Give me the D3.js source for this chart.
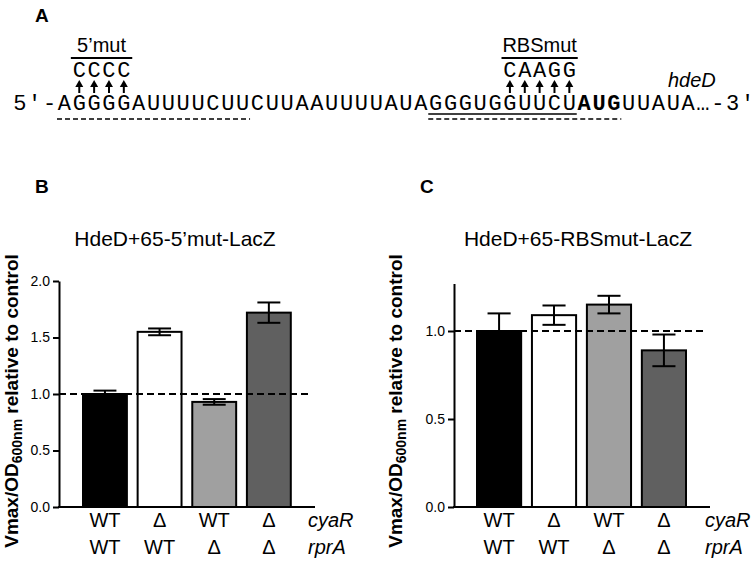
<!DOCTYPE html>
<html>
<head>
<meta charset="utf-8">
<script src="https://cdn.jsdelivr.net/npm/d3@7"></script>
<style>
  body { margin: 0; background: #fff; }
  svg { font-family: Arial, "Liberation Sans", sans-serif; }
</style>
</head>
<body>
<div id="chart"></div>
<script>
// ---- panel A: sequence ----
var seqPrefix = "5′-";
var seqBody = "AGGGGAUUUUCUUCUUAAUUUUAUAGGGUGGUUCUAUGUUAUA";
var seqSuffix = "…-3′";
var boldRange = [35, 38]; // AUG start codon
var mutations = [
  { label: "5’mut", start: 1, bases: "CCCC" },
  { label: "RBSmut", start: 30, bases: "CAAGG" }
];
// underlines under the sequence, by base index
var underlines = [
  { from: 0, to: 13, dashed: true, row: 1 },
  { from: 25, to: 35, dashed: false, row: 0 },
  { from: 25, to: 38, dashed: true, row: 1 }
];

// ---- panels B and C: bars ----
var cyaR = ["WT", "Δ", "WT", "Δ"];
var rprA = ["WT", "WT", "Δ", "Δ"];
var strains = ["wt", "cyaR", "rprA", "double"];
var barColors = ["#000000", "#ffffff", "#a0a0a0", "#606060"];
var mut5Values = [1.00, 1.55, 0.93, 1.72];
var mut5Errors = [0.03, 0.03, 0.025, 0.09];
var mut5Ticks = [0, 0.5, 1.0, 1.5, 2.0];
var rbsValues = [1.00, 1.09, 1.15, 0.89];
var rbsErrors = [0.10, 0.055, 0.05, 0.09];
var rbsTicks = [0, 0.5, 1.0];

var svg = d3.select("#chart").append("svg")
  .attr("width", 756)
  .attr("height", 563);

// panel letter
function panelLetter(txt, x, y) {
  svg.append("text")
    .attr("x", x).attr("y", y)
    .attr("font-size", 19).attr("font-weight", "bold")
    .text(txt);
}

function drawSequence() {
  panelLetter("A", 35, 22);
  var cell = d3.scaleLinear().domain([0, 1]).range([57, 71.85]);
  var seqY = 110;

  var chars = [];
  seqPrefix.split("").forEach(function(c, i) {
    chars.push({ ch: c, i: i - seqPrefix.length, bold: false });
  });
  seqBody.split("").forEach(function(c, i) {
    chars.push({ ch: c, i: i, bold: i >= boldRange[0] && i < boldRange[1] });
  });
  seqSuffix.split("").forEach(function(c, i) {
    chars.push({ ch: c, i: seqBody.length + i, bold: false });
  });

  var g = svg.append("g")
    .attr("font-family", "'Courier New', 'Nimbus Mono PS', FreeMono, 'Liberation Mono', monospace")
    .attr("font-size", 22);

  g.selectAll(".base")
    .data(chars)
    .enter()
    .append("text")
    .attr("class", "base")
    .attr("x", function(d) { return cell(d.i + 0.5); })
    .attr("y", seqY)
    .attr("text-anchor", "middle")
    .attr("font-weight", function(d) { return d.bold ? "bold" : "normal"; })
    .text(function(d) { return d.ch; });

  // underlines
  svg.selectAll(".uline")
    .data(underlines)
    .enter()
    .append("line")
    .attr("x1", function(d) { return cell(d.from); })
    .attr("x2", function(d) { return cell(d.to); })
    .attr("y1", function(d) { return seqY + 4 + d.row * 5; })
    .attr("y2", function(d) { return seqY + 4 + d.row * 5; })
    .attr("stroke", "#000")
    .attr("stroke-width", 1.6)
    .attr("stroke-dasharray", function(d) { return d.dashed ? "5,3" : null; });

  mutations.forEach(function(m) {
    var n = m.bases.length;
    // label and bar
    svg.append("text")
      .attr("x", (cell(m.start) + cell(m.start + n)) / 2)
      .attr("y", 52)
      .attr("text-anchor", "middle")
      .attr("font-size", 20)
      .text(m.label);
    svg.append("line")
      .attr("x1", cell(m.start) - 1).attr("x2", cell(m.start + n) + 1)
      .attr("y1", 58).attr("y2", 58)
      .attr("stroke", "#000").attr("stroke-width", 2);

    var idx = d3.range(n);
    g.selectAll(".mut" + m.start)
      .data(idx)
      .enter()
      .append("text")
      .attr("x", function(k) { return cell(m.start + k + 0.5); })
      .attr("y", 77)
      .attr("text-anchor", "middle")
      .text(function(k) { return m.bases[k]; });

    // arrows
    idx.forEach(function(k) {
      var cx = cell(m.start + k + 0.5);
      svg.append("line")
        .attr("x1", cx).attr("x2", cx)
        .attr("y1", 93).attr("y2", 85)
        .attr("stroke", "#000").attr("stroke-width", 2);
      svg.append("path")
        .attr("d", "M" + (cx - 4) + ",87L" + cx + ",80L" + (cx + 4) + ",87Z")
        .attr("fill", "#000");
    });
  });

  svg.append("text")
    .attr("x", 668).attr("y", 87)
    .attr("font-size", 20).attr("font-style", "italic")
    .text("hdeD");
}

function drawBars(p) {
  panelLetter(p.letter, p.letterX, 193);

  var y = d3.scaleLinear().domain([0, p.yMax]).range([507, 507 - p.unit * p.yMax]);
  var x = d3.scaleBand().domain(strains).range(p.band).paddingInner(0.16).paddingOuter(0);

  var g = svg.append("g");

  // title
  g.append("text")
    .attr("x", p.titleX).attr("y", 246)
    .attr("text-anchor", "middle")
    .attr("font-size", 21)
    .text(p.title);

  // bars
  g.selectAll(".bar")
    .data(p.values)
    .enter()
    .append("rect")
    .attr("x", function(d, i) { return x(strains[i]) + 1; })
    .attr("y", function(d) { return y(d); })
    .attr("width", x.bandwidth() - 2)
    .attr("height", function(d) { return y(0) - y(d); })
    .attr("fill", function(d, i) { return barColors[i]; })
    .attr("stroke", "#000")
    .attr("stroke-width", 2);

  // error bars
  p.values.forEach(function(v, i) {
    var cx = x(strains[i]) + x.bandwidth() / 2;
    var e = p.errors[i];
    var cap = x.bandwidth() / 4;
    g.append("line")
      .attr("x1", cx).attr("x2", cx)
      .attr("y1", y(v - e)).attr("y2", y(v + e))
      .attr("stroke", "#000").attr("stroke-width", 2);
    [v - e, v + e].forEach(function(t) {
      g.append("line")
        .attr("x1", cx - cap).attr("x2", cx + cap)
        .attr("y1", y(t)).attr("y2", y(t))
        .attr("stroke", "#000").attr("stroke-width", 2);
    });
  });

  // y axis
  var ax = g.append("g")
    .attr("transform", "translate(" + p.axisX + ",0)")
    .call(d3.axisLeft(y)
      .tickValues(p.ticks)
      .tickFormat(d3.format(".1f"))
      .tickSize(6)
      .tickSizeOuter(0)
      .tickPadding(3));
  ax.attr("font-family", "Arial, 'Liberation Sans', sans-serif").attr("font-size", 14);
  ax.selectAll("path, line").attr("stroke", "#000").attr("stroke-width", 2);
  ax.selectAll("text").attr("fill", "#000");

  // x axis line
  g.append("line")
    .attr("x1", p.axisX - 1).attr("x2", p.axisEnd)
    .attr("y1", y(0)).attr("y2", y(0))
    .attr("stroke", "#000").attr("stroke-width", 2);

  // control reference line
  g.append("line")
    .attr("x1", p.axisX).attr("x2", p.dashEnd)
    .attr("y1", y(1)).attr("y2", y(1))
    .attr("stroke", "#000").attr("stroke-width", 2)
    .attr("stroke-dasharray", "7,4");

  // genotype labels
  [cyaR, rprA].forEach(function(row, r) {
    g.selectAll(".geno" + r)
      .data(row)
      .enter()
      .append("text")
      .attr("x", function(d, i) { return x(strains[i]) + x.bandwidth() / 2; })
      .attr("y", 527 + r * 27)
      .attr("text-anchor", "middle")
      .attr("font-size", 20)
      .text(function(d) { return d; });
  });
  ["cyaR", "rprA"].forEach(function(name, r) {
    g.append("text")
      .attr("x", p.geneX).attr("y", 527 + r * 27)
      .attr("font-size", 20).attr("font-style", "italic")
      .text(name);
  });

  // y label
  var yl = g.append("text")
    .attr("transform", "translate(" + p.ylabX + ",401) rotate(-90)")
    .attr("text-anchor", "middle")
    .attr("font-size", 19)
    .attr("font-weight", "bold");
  yl.append("tspan").text("Vmax/OD");
  yl.append("tspan").attr("font-size", 14).attr("dy", 4).text("600nm");
  yl.append("tspan").attr("dy", -4).text(" relative to control");
}

drawSequence();

drawBars({
  letter: "B", letterX: 35, title: "HdeD+65-5’mut-LacZ", titleX: 175,
  yMax: 2.0, unit: 113, ticks: mut5Ticks, values: mut5Values, errors: mut5Errors,
  axisX: 59, axisEnd: 315, dashEnd: 312, band: [82, 291.8],
  geneX: 308, ylabX: 18
});

drawBars({
  letter: "C", letterX: 420, title: "HdeD+65-RBSmut-LacZ", titleX: 578,
  yMax: 1.27, unit: 176, ticks: rbsTicks, values: rbsValues, errors: rbsErrors,
  axisX: 454, axisEnd: 710, dashEnd: 705, band: [476, 687],
  geneX: 705, ylabX: 402
});
</script>
</body>
</html>
